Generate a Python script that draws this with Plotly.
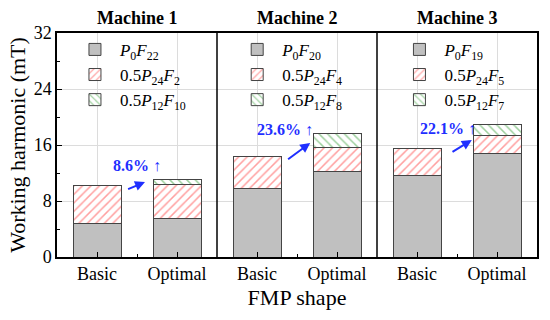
import plotly.graph_objects as go

machines = ["Machine 1", "Machine 2", "Machine 3"]
shapes_cat = ["Basic", "Optimal"]
x_pos = [[1, 3], [5, 7], [9, 11]]

p0_vals = [[4.8, 5.5], [9.8, 12.2], [11.6, 14.8]]
p24_vals = [[5.4, 4.9], [4.5, 3.4], [3.85, 2.5]]
p12_vals = [[0.0, 0.65], [0.0, 2.1], [0.0, 1.6]]

names = [
    ["<i>P</i><sub>0</sub><i>F</i><sub>22</sub>", "0.5<i>P</i><sub>24</sub><i>F</i><sub>2</sub>", "0.5<i>P</i><sub>12</sub><i>F</i><sub>10</sub>"],
    ["<i>P</i><sub>0</sub><i>F</i><sub>20</sub>", "0.5<i>P</i><sub>24</sub><i>F</i><sub>4</sub>", "0.5<i>P</i><sub>12</sub><i>F</i><sub>8</sub>"],
    ["<i>P</i><sub>0</sub><i>F</i><sub>19</sub>", "0.5<i>P</i><sub>24</sub><i>F</i><sub>5</sub>", "0.5<i>P</i><sub>12</sub><i>F</i><sub>7</sub>"],
]
increase_text = ["8.6%", "23.6%", "22.1%"]
# arrow annotation positions (data coords): tail x,y ; head x,y ; label x,y
arrow_tail = [(1.74, 9.6), (5.74, 13.8), (9.85, 14.9)]
arrow_head = [(2.2, 10.7), (6.33, 16.3), (10.37, 16.7)]
label_pos = [(1.99, 13.1), (5.7, 18.2), (9.78, 18.4)]

FONT = "Liberation Serif"
legend_ids = ["legend", "legend2", "legend3"]
legend_x = [0.027, 0.365, 0.703]

fig = go.Figure()
for m in range(3):
    series = [
        (p0_vals[m], dict(color="#c0c0c0")),
        (p24_vals[m], dict(color="white", pattern=dict(shape="/", fgcolor="#ff4040", bgcolor="white", size=6, solidity=0.25))),
        (p12_vals[m], dict(color="white", pattern=dict(shape="\\", fgcolor="#3aa03a", bgcolor="white", size=6, solidity=0.25))),
    ]
    for k, (vals, mk) in enumerate(series):
        mk = dict(mk)
        mk["line"] = dict(color="#444444", width=1)
        fig.add_trace(go.Bar(
            x=x_pos[m], y=vals, width=1.2, name=names[m][k],
            marker=mk, legend=legend_ids[m], showlegend=True,
        ))

annotations = []
for m in range(3):
    annotations.append(dict(
        x=arrow_head[m][0], y=arrow_head[m][1], ax=arrow_tail[m][0], ay=arrow_tail[m][1],
        xref="x", yref="y", axref="x", ayref="y", text="", showarrow=True,
        arrowhead=2, arrowsize=1, arrowwidth=2, arrowcolor="#1f2fff",
    ))
    annotations.append(dict(
        x=label_pos[m][0], y=label_pos[m][1], xref="x", yref="y", showarrow=False,
        text="<b>" + increase_text[m] + "</b> \u2191",
        font=dict(family=FONT, size=16, color="#1f2fff"),
    ))
    annotations.append(dict(
        x=(x_pos[m][0] + x_pos[m][1]) / 2, y=1.0, xref="x", yref="paper", yanchor="bottom",
        yshift=3, showarrow=False, text="<b>" + machines[m] + "</b>",
        font=dict(family=FONT, size=18, color="black"),
    ))

shapes = [
    dict(type="line", xref="x", yref="paper", x0=xv, x1=xv, y0=0, y1=1,
         line=dict(color="black", width=1.5), layer="above")
    for xv in [4, 8]
]

tickvals = [x for pair in x_pos for x in pair]
ticktext = shapes_cat * 3

layout_legends = {}
for m in range(3):
    layout_legends[legend_ids[m]] = dict(
        x=legend_x[m], y=1.005, xanchor="left", yanchor="top",
        bgcolor="rgba(0,0,0,0)", traceorder="normal",
        font=dict(family=FONT, size=17, color="black"),
        itemwidth=40,
    )

fig.update_layout(
    width=550, height=320, margin=dict(l=57, r=13, t=33, b=63),
    barmode="stack", plot_bgcolor="white", paper_bgcolor="white",
    font=dict(family=FONT, size=17, color="black"),
    annotations=annotations, shapes=shapes,
    xaxis=dict(
        range=[0, 12], tickvals=tickvals, ticktext=ticktext,
        ticks="inside", ticklen=5, tickcolor="black",
        showline=True, linecolor="black", linewidth=1.5, mirror=True,
        showgrid=True, gridcolor="#dcdcdc", gridwidth=1,
        minor=dict(tick0=2, dtick=4, ticks="inside", ticklen=3, tickcolor="black", showgrid=False),
        title=dict(text="FMP shape", font=dict(family=FONT, size=22), standoff=6),
        tickfont=dict(family=FONT, size=18),
    ),
    yaxis=dict(
        range=[0, 32], tickvals=[0, 8, 16, 24, 32],
        ticks="inside", ticklen=5, tickcolor="black",
        showline=True, linecolor="black", linewidth=1.5, mirror=True,
        showgrid=True, gridcolor="#dcdcdc", gridwidth=1, zeroline=False,
        minor=dict(tick0=4, dtick=8, ticks="inside", ticklen=3, tickcolor="black", showgrid=False),
        title=dict(text="Working harmonic (mT)", font=dict(family=FONT, size=22), standoff=2),
        tickfont=dict(family=FONT, size=18),
    ),
    **layout_legends,
)

fig.write_html("out.html", config={"displayModeBar": False},
               post_script="document.body.style.margin='0';")
